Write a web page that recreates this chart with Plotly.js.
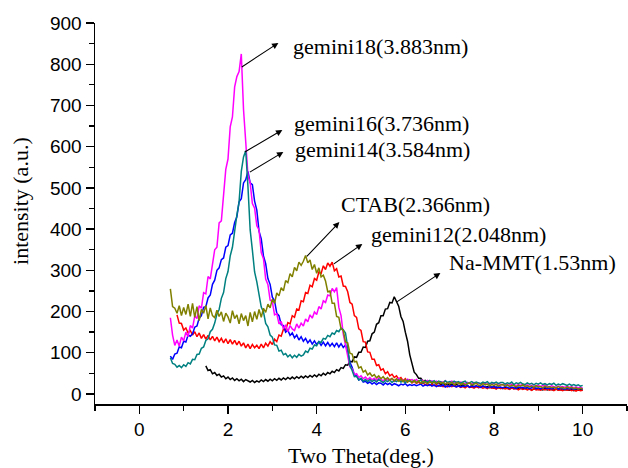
<!DOCTYPE html>
<html>
<head>
<meta charset="utf-8">
<script src="https://cdn.plot.ly/plotly-3.0.1.min.js"></script>
<style>html,body{margin:0;padding:0;background:#fff;}#chart{width:628px;height:468px;}</style>
</head>
<body>
<div id="chart"></div>
<script>
// Two Theta (deg.) sample positions
var twoTheta = [
0.70,0.75,0.80,0.85,0.90,0.95,1.00,1.05,1.10,1.15,
1.20,1.25,1.30,1.35,1.40,1.45,1.50,1.55,1.60,1.65,
1.70,1.75,1.80,1.85,1.90,1.95,2.00,2.05,2.10,2.15,
2.20,2.25,2.30,2.35,2.40,2.45,2.50,2.55,2.60,2.65,
2.70,2.75,2.80,2.85,2.90,2.95,3.00,3.05,3.10,3.15,
3.20,3.25,3.30,3.35,3.40,3.45,3.50,3.55,3.60,3.65,
3.70,3.75,3.80,3.85,3.90,3.95,4.00,4.05,4.10,4.15,
4.20,4.25,4.30,4.35,4.40,4.45,4.50,4.55,4.60,4.65,
4.70,4.75,4.80,4.85,4.90,4.95,5.00,5.05,5.10,5.15,
5.20,5.25,5.30,5.35,5.40,5.45,5.50,5.55,5.60,5.65,
5.70,5.75,5.80,5.85,5.90,5.95,6.00,6.05,6.10,6.15,
6.20,6.25,6.30,6.35,6.40,6.45,6.50,6.55,6.60,6.65,
6.70,6.75,6.80,6.85,6.90,6.95,7.00,7.05,7.10,7.15,
7.20,7.25,7.30,7.35,7.40,7.45,7.50,7.55,7.60,7.65,
7.70,7.75,7.80,7.85,7.90,7.95,8.00,8.05,8.10,8.15,
8.20,8.25,8.30,8.35,8.40,8.45,8.50,8.55,8.60,8.65,
8.70,8.75,8.80,8.85,8.90,8.95,9.00,9.05,9.10,9.15,
9.20,9.25,9.30,9.35,9.40,9.45,9.50,9.55,9.60,9.65,
9.70,9.75,9.80,9.85,9.90,9.95,10.00
];

var naMMT = [
null,null,null,null,null,null,null,null,null,null,
null,null,null,null,null,null,68,57,59,49,
52,45,48,41,44,37,41,35,39,33,
37,32,36,30,35,31,29,33,28,32,
29,34,30,35,31,36,32,37,33,38,
34,39,35,40,36,41,37,42,38,43,
39,44,40,45,41,46,42,48,44,50,
46,52,49,55,52,59,56,64,62,71,
70,79,78,90,89,101,101,114,113,128,
129,146,150,169,173,190,190,206,207,222,
221,236,222,213,188,176,150,128,95,75,
53,47,38,38,31,33,28,31,26,29,
24,27,23,26,22,25,21,24,20,23,
21,19,22,18,20,17,21,18,19,16,
17,19,16,18,15,17,14,17,15,16,
13,16,14,12,15,13,16,12,14,13,
14,11,13,10,12,14,11,12,10,13,
10,12,11,9,12,10,11,9,11,10,
9,11,8,10,9,11,9
];

var gemini12 = [
null,null,null,192,172,171,155,160,148,154,
143,151,139,148,135,144,133,142,131,140,
129,138,127,135,124,134,122,132,121,130,
119,128,116,124,112,121,110,120,112,118,
110,121,112,123,116,127,120,133,127,143,
140,157,155,173,170,190,186,206,204,226,
224,246,244,264,260,280,276,296,292,311,
302,318,310,320,299,304,284,286,262,261,
248,222,218,190,186,158,154,127,126,102,
101,84,84,69,71,58,61,49,54,44,
48,40,44,36,40,32,37,29,34,27,
31,26,29,24,27,22,25,21,24,20,
22,19,21,18,20,17,20,18,21,17,
19,16,18,15,19,16,17,14,18,15,
17,14,16,13,17,14,15,12,16,13,
15,12,14,11,15,12,13,10,14,11,
13,10,12,9,13,10,11,9,12,10,
12,9,11,8,12,9,10,8,11,9,
11,8,10,7,10,8,9
];

var gemini14 = [
92,84,97,99,114,112,128,126,143,140,
146,162,165,184,190,210,212,233,240,266,
276,300,306,326,330,356,360,386,390,416,
430,466,474,512,520,540,512,508,468,446,
395,376,335,316,280,266,235,226,196,190,
168,166,150,155,142,148,136,143,131,139,
128,135,124,131,121,129,120,127,118,126,
117,125,116,123,115,124,114,122,113,119,
104,77,65,47,45,34,37,29,31,26,
29,24,28,23,27,26,22,27,23,26,
21,25,23,20,24,22,25,20,23,21,
23,20,22,24,19,22,20,23,19,22,
18,21,19,22,17,20,18,21,19,17,
20,17,19,18,21,16,19,17,20,18,
16,19,17,15,18,16,19,15,17,16,
15,18,16,14,17,15,13,17,15,16,
14,16,13,15,17,13,15,12,14,16,
13,15,12,14,16,12,14,13,11,14,
12,14,11,13,12,14,12
];

var gemini18 = [
185,143,118,131,116,138,129,150,139,166,
160,189,183,214,208,246,243,285,279,318,
350,356,415,420,474,545,570,648,672,745,
770,782,825,690,612,530,512,462,451,408,
398,343,328,279,266,228,224,192,195,170,
176,158,168,151,166,158,154,170,160,172,
165,182,175,192,184,199,193,212,206,226,
222,240,238,256,248,258,210,190,145,120,
95,66,61,47,49,40,44,37,41,35,
40,34,38,33,39,36,32,37,34,36,
37,31,35,38,32,34,30,36,33,35,
31,35,30,34,33,29,33,30,32,28,
31,27,30,28,32,26,29,31,27,29,
26,29,27,25,28,26,24,28,25,27,
24,27,25,23,26,24,26,22,25,23,
22,25,23,21,24,22,20,23,21,24,
20,22,19,21,23,19,21,18,20,22,
19,17,20,18,16,19,17,18,16,19,
16,18,15,17,15,16,14
];

var gemini16 = [
88,74,72,65,69,64,71,67,76,73,
84,83,96,97,111,114,130,134,151,157,
172,194,205,232,246,280,297,335,356,400,
434,466,540,575,590,503,398,349,296,272,
244,211,199,171,163,143,138,119,118,104,
106,95,98,90,95,88,94,89,96,92,
95,104,101,111,109,119,117,127,125,135,
133,142,139,148,145,154,151,160,156,148,
114,69,57,42,43,34,38,31,35,30,
35,30,34,29,35,31,28,33,30,34,
28,33,30,34,29,32,27,33,31,29,
33,28,31,34,27,31,29,33,28,32,
27,31,29,26,32,28,30,27,31,28,
30,26,29,31,25,28,30,26,29,27,
25,29,27,30,24,28,26,29,25,28,
28,24,27,25,29,23,27,25,28,24,
23,27,24,26,22,26,24,27,23,25,
22,25,23,26,21,24,22,25,23,21,
24,21,23,20,22,19,21
];

var ctab = [
255,212,208,196,214,190,210,193,218,188,
220,186,212,178,205,196,215,182,209,190,
185,203,188,199,176,196,187,172,202,183,
192,170,195,178,190,165,198,175,200,181,
205,186,208,198,218,209,230,220,245,238,
258,250,275,270,292,284,307,299,320,312,
322,336,318,325,302,314,293,306,284,288,
274,248,250,220,220,188,186,158,154,126,
124,99,97,78,79,63,66,53,57,46,
51,43,47,39,44,37,42,35,40,33,
38,32,37,31,36,30,35,29,34,28,
33,27,32,26,31,28,25,30,27,29,
25,29,26,28,24,27,25,28,23,26,
27,23,26,22,25,27,22,24,26,21,
21,25,22,24,20,23,21,24,19,22,
23,19,22,18,21,20,17,21,19,22,
18,20,17,19,16,20,17,18,15,19,
16,18,15,17,14,18,15,16,13,17,
14,16,13,15,12,14,13
];

var seriesNames = ["Na-MMT(1.53nm)","gemini12(2.048nm)","gemini14(3.584nm)","gemini18(3.883nm)","gemini16(3.736nm)","CTAB(2.366nm)"];
var seriesData = [naMMT, gemini12, gemini14, gemini18, gemini16, ctab];
var seriesColors = ["#000000","#FF0000","#0000FF","#FF00FF","#008080","#808000"];
var xTitle = "Two Theta(deg.)";
var yTitle = "intensity (a.u.)";

var traces = seriesData.map(function(d, i){
  return {x: twoTheta, y: d, type: 'scatter', mode: 'lines', name: seriesNames[i],
          line: {color: seriesColors[i], width: 1.5}, connectgaps: false, hoverinfo: 'skip'};
});

// label placement: [tail x, tail y, head x, head y, text x, text y]
var labelPos = [
  [5.775,221, 6.79,293.5, 6.95,318],
  [4.354,313, 5.03,364, 5.19,386],
  [2.459,536, 3.248,587, 3.47,592],
  [2.278,791, 3.136,851.5, 3.41,844],
  [2.346,585, 3.226,640.5, 3.45,655],
  [3.745,330, 4.512,417, 4.51,458.5]
];
var serif = 'Liberation Serif, Times New Roman, serif';
var sans = 'Liberation Sans, Arial, sans-serif';
var annotations = [];
labelPos.forEach(function(p, i){
  annotations.push({x: p[2], y: p[3], xref: 'x', yref: 'y', ax: p[0], ay: p[1], axref: 'x', ayref: 'y',
    text: '', showarrow: true, arrowhead: 2, arrowsize: 1.15, arrowwidth: 1.1, arrowcolor: '#000', standoff: 0, startstandoff: 0});
  annotations.push({x: p[4], y: p[5], xref: 'x', yref: 'y', text: seriesNames[i], showarrow: false,
    xanchor: 'left', yanchor: 'middle', font: {family: serif, size: 22, color: '#000'}});
});
// y-axis title placed as rotated text
annotations.push({x: -0.139, y: 0.533, xref: 'paper', yref: 'paper', text: yTitle, textangle: -90,
  showarrow: false, xanchor: 'center', yanchor: 'middle', font: {family: serif, size: 22, color: '#000'}});

var layout = {
  width: 628, height: 468,
  margin: {l: 95, r: 1, t: 23, b: 64, pad: 0},
  paper_bgcolor: '#fff', plot_bgcolor: '#fff',
  showlegend: false,
  xaxis: {
    range: [-1, 11], tickmode: 'array', tickvals: [0,2,4,6,8,10], ticktext: ['0','2','4','6','8','10'],
    ticks: 'outside', ticklen: 8, tickwidth: 1.3, tickcolor: '#000',
    minor: {dtick: 1, tick0: 1, ticks: 'outside', ticklen: 5, tickwidth: 1.3, tickcolor: '#000'},
    showline: true, linecolor: '#000', linewidth: 1.5, showgrid: false, zeroline: false,
    tickfont: {family: sans, size: 19, color: '#000'},
    title: {text: xTitle, font: {family: serif, size: 22, color: '#000'}, standoff: 10},
    automargin: false
  },
  yaxis: {
    range: [-24.3, 900], tick0: 0, dtick: 100,
    ticks: 'outside', ticklen: 8, tickwidth: 1.3, tickcolor: '#000',
    minor: {dtick: 50, tick0: 0, ticks: 'outside', ticklen: 5, tickwidth: 1.3, tickcolor: '#000'},
    showline: true, linecolor: '#000', linewidth: 1.5, showgrid: false, zeroline: false,
    tickfont: {family: sans, size: 19, color: '#000'},
    automargin: false
  },
  annotations: annotations
};

Plotly.newPlot('chart', traces, layout, {displayModeBar: false, staticPlot: true});
</script>
</body>
</html>
